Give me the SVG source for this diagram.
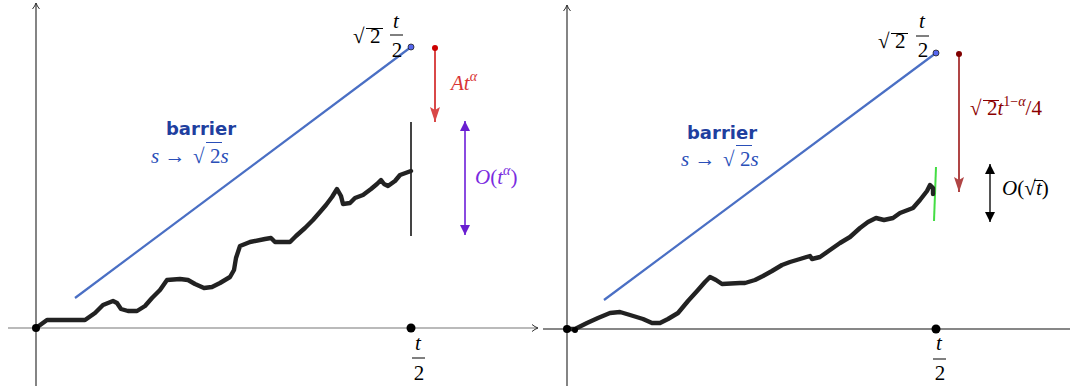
<svg xmlns="http://www.w3.org/2000/svg" width="1070" height="390" viewBox="0 0 1070 390">
<style>
.m{font-family:'Liberation Serif','Times New Roman',serif;font-size:21px}
.i{font-style:italic}
.bar{font-family:'DejaVu Sans','Liberation Sans',sans-serif;font-weight:bold;font-size:18px;fill:#1f3f9f}
.walk{fill:none;stroke:#222;stroke-width:4.4;stroke-linejoin:round;stroke-linecap:round}
.ax{fill:none;stroke-width:1.2}
.barrier{stroke:#4a6fc4;stroke-width:2.2}
</style>
<defs>
<marker id="axh" markerWidth="10" markerHeight="10" refX="8" refY="5" orient="auto" markerUnits="userSpaceOnUse">
<path d="M2,1.5 Q5,4 8,5 Q5,6 2,8.5" fill="none" stroke="#333" stroke-width="1"/>
</marker>
<marker id="hRed" markerWidth="16" markerHeight="12" refX="15" refY="5" orient="auto-start-reverse" markerUnits="userSpaceOnUse">
<path d="M0,0 L15,5 L0,10 L3,5 Z" fill="#d94848"/>
</marker>
<marker id="hPur" markerWidth="12" markerHeight="12" refX="10" refY="5" orient="auto-start-reverse" markerUnits="userSpaceOnUse">
<path d="M0,0 L10,5 L0,10 Z" fill="#6a1fd0"/>
</marker>
<marker id="hDr" markerWidth="16" markerHeight="12" refX="15" refY="5" orient="auto-start-reverse" markerUnits="userSpaceOnUse">
<path d="M0,0 L15,5 L0,10 L3,5 Z" fill="#b04545"/>
</marker>
<marker id="hBlk" markerWidth="12" markerHeight="12" refX="10" refY="5" orient="auto-start-reverse" markerUnits="userSpaceOnUse">
<path d="M0,0 L10,5 L0,10 Z" fill="#000"/>
</marker>
</defs>

<g id="axes">
<line class="ax" x1="8" y1="328" x2="538" y2="328" stroke="#777" marker-end="url(#axh)"/>
<line class="ax" x1="36" y1="386" x2="36" y2="3" stroke="#333" marker-end="url(#axh)"/>
<line class="ax" x1="543" y1="329" x2="1070" y2="329" stroke="#111"/>
<line class="ax" x1="567" y1="386" x2="567" y2="5" stroke="#333" marker-end="url(#axh)"/>
</g>

<g id="connectors">
<line class="barrier" x1="75" y1="298" x2="411" y2="47"/>
<line class="barrier" x1="604" y1="300" x2="936" y2="53"/>
<line x1="435" y1="48" x2="435" y2="122" stroke="#d94848" stroke-width="2" marker-end="url(#hRed)"/>
<line x1="465" y1="121" x2="465" y2="235" stroke="#8a4be0" stroke-width="2" marker-start="url(#hPur)" marker-end="url(#hPur)"/>
<line x1="959" y1="54" x2="959" y2="192" stroke="#b04545" stroke-width="2" marker-end="url(#hDr)"/>
<line x1="990" y1="164" x2="990" y2="222" stroke="#555" stroke-width="2" marker-start="url(#hBlk)" marker-end="url(#hBlk)"/>
<line x1="411" y1="122" x2="411" y2="236" stroke="#444" stroke-width="2"/>
<line x1="936" y1="167" x2="934" y2="221" stroke="#44dd44" stroke-width="2"/>
</g>

<g id="walk-left">
<polyline class="walk" points="36,328 47,320 85,320 95,313 103,305 113,301 117,303 121,309 128,311 137,311 145,306 152,298 160,290 167,280 180,279 188,280 195,284 204,288 212,287 220,283 230,277 234,270 236,258 240,246 250,242 265,239 271,238 275,242 290,242 296,236 305,228 313,220 320,212 326,205 332,197 337,189 341,196 343,204 350,203 355,198 363,195 371,189 377,184 381,180 384,184 388,186 395,181 400,175 411,171"/>
</g>
<g id="walk-right">
<polyline class="walk" points="567,329 575,329 587,323 598,318 610,313 620,312 630,315 643,319 652,323 660,323 668,319 678,313 688,301 698,290 705,282 710,277 716,280 722,284 740,283 745,283 755,280 763,276 772,271 782,265 790,262 800,259 810,256 812,259 820,257 830,250 840,243 850,237 860,228 868,222 876,218 884,220 893,218 900,213 913,208 920,200 927,191 930,185 933,188 933,194"/>
</g>

<g id="dots">
<circle cx="36" cy="328" r="4" fill="#000"/>
<circle cx="411" cy="328" r="4.5" fill="#000"/>
<circle cx="567" cy="329" r="4" fill="#000"/>
<circle cx="575" cy="330" r="3" fill="#000"/>
<circle cx="936" cy="329" r="4.5" fill="#000"/>
<circle cx="411" cy="47" r="3" fill="#5566ee" stroke="#222" stroke-width="0.8"/>
<circle cx="936" cy="53" r="3" fill="#5566ee" stroke="#222" stroke-width="0.8"/>
<circle cx="435" cy="48" r="3" fill="#cc0000"/>
<circle cx="959" cy="54" r="3" fill="#800000"/>
</g>

<g id="label-sqrt2-left">
<text class="m" x="353" y="43">√</text>
<line x1="366" y1="28.5" x2="383" y2="28.5" stroke="#000" stroke-width="1"/>
<text class="m" x="370" y="43">2</text>
<text class="m i" x="396" y="28" text-anchor="middle">t</text>
<line x1="390" y1="35" x2="403" y2="35" stroke="#000" stroke-width="1"/>
<text class="m" x="397" y="57" text-anchor="middle">2</text>
</g>

<g id="label-sqrt2-right">
<text class="m" x="878" y="48">√</text>
<line x1="891" y1="33.5" x2="908" y2="33.5" stroke="#000" stroke-width="1"/>
<text class="m" x="895" y="48">2</text>
<text class="m i" x="922" y="28" text-anchor="middle">t</text>
<line x1="916" y1="36" x2="929" y2="36" stroke="#000" stroke-width="1"/>
<text class="m" x="923" y="57" text-anchor="middle">2</text>
</g>

<g id="label-t2-left">
<text class="m i" x="418" y="350" text-anchor="middle">t</text>
<line x1="412" y1="358" x2="425" y2="358" stroke="#000" stroke-width="1"/>
<text class="m" x="419" y="380" text-anchor="middle">2</text>
</g>
<g id="label-t2-right">
<text class="m i" x="939" y="350" text-anchor="middle">t</text>
<line x1="933" y1="359" x2="946" y2="359" stroke="#000" stroke-width="1"/>
<text class="m" x="940" y="380" text-anchor="middle">2</text>
</g>

<g id="label-barrier-left">
<text class="bar" x="201" y="135" text-anchor="middle">barrier</text>
<text class="m" x="151" y="163" fill="#2a4fb8"><tspan class="i">s</tspan> → </text>
<text class="m" x="193" y="163" fill="#2a4fb8">√</text>
<line x1="206" y1="142.5" x2="222" y2="142.5" stroke="#2a4fb8" stroke-width="1"/>
<text class="m" x="210" y="163" fill="#2a4fb8">2<tspan class="i">s</tspan></text>
</g>
<g id="label-barrier-right">
<text class="bar" x="722" y="139" text-anchor="middle">barrier</text>
<text class="m" x="681" y="166" fill="#2a4fb8"><tspan class="i">s</tspan> → </text>
<text class="m" x="723" y="166" fill="#2a4fb8">√</text>
<line x1="736" y1="145.5" x2="752" y2="145.5" stroke="#2a4fb8" stroke-width="1"/>
<text class="m" x="740" y="166" fill="#2a4fb8">2<tspan class="i">s</tspan></text>
</g>

<g id="label-At">
<text class="m i" x="451" y="90" fill="#d93535">At<tspan font-size="14" dy="-9">α</tspan></text>
</g>
<g id="label-Ota">
<text class="m" x="475" y="184" fill="#7a2be0"><tspan class="i">O</tspan>(<tspan class="i">t</tspan><tspan font-size="14" dy="-9" class="i">α</tspan><tspan dy="9">)</tspan></text>
</g>
<g id="label-sqrt2t">
<text class="m" x="970" y="115" fill="#8b0000">√</text>
<line x1="983" y1="100.5" x2="999" y2="100.5" stroke="#8b0000" stroke-width="1"/>
<text class="m" x="987" y="115" fill="#8b0000">2<tspan class="i">t</tspan><tspan font-size="14" dy="-9">1−<tspan class="i">α</tspan></tspan><tspan dy="9">/4</tspan></text>
</g>
<g id="label-Osqrt">
<text class="m" x="1002" y="195" fill="#000"><tspan class="i">O</tspan>(√</text>
<line x1="1034" y1="180.5" x2="1043" y2="180.5" stroke="#000" stroke-width="1"/>
<text class="m" x="1036" y="195" fill="#000"><tspan class="i">t</tspan>)</text>
</g>
</svg>
